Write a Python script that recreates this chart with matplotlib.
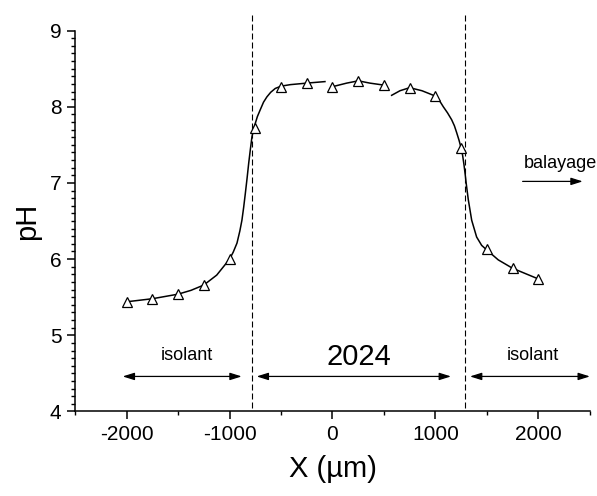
import matplotlib
matplotlib.use("Agg")
import matplotlib.pyplot as plt
from matplotlib.ticker import MultipleLocator

plt.rcParams['font.family'] = ['Liberation Sans', 'DejaVu Sans']
plt.rcParams['axes.unicode_minus'] = False

# measured points (triangles)
x_pts = [-2000, -1750, -1500, -1250, -1000, -750, -500, -250, 0,
         250, 500, 750, 1000, 1250, 1500, 1750, 2000]
ph_pts = [5.44, 5.48, 5.54, 5.66, 6.00, 7.72, 8.26, 8.31, 8.26,
          8.34, 8.28, 8.25, 8.14, 7.46, 6.13, 5.88, 5.74]

# fitted curves (three pieces)
fit1_x = [-2000, -1875, -1750, -1625, -1500, -1375, -1250, -1125, -1000,
          -965, -928, -900, -880, -863, -847, -830, -814, -798, -782,
          -755, -730, -702, -670, -637, -600, -556, -500, -410, -250, -73]
fit1_ph = [5.44, 5.46, 5.48, 5.51, 5.54, 5.59, 5.66, 5.79, 6.00,
           6.09, 6.21, 6.37, 6.51, 6.68, 6.86, 7.06, 7.26, 7.44, 7.61,
           7.76, 7.87, 7.96, 8.06, 8.13, 8.19, 8.24, 8.27, 8.29, 8.31, 8.33]
fit2_x = [20, 138, 251, 364, 520]
fit2_ph = [8.27, 8.31, 8.34, 8.31, 8.28]
fit3_x = [575, 656, 750, 870, 1000, 1040, 1077, 1118, 1158, 1185, 1207,
          1230, 1250, 1265, 1278, 1290, 1300, 1320, 1353, 1401, 1450, 1500,
          1611, 1750, 1875, 2000]
fit3_ph = [8.15, 8.21, 8.25, 8.21, 8.14, 8.08, 8.00, 7.92, 7.83, 7.75, 7.66,
           7.56, 7.46, 7.36, 7.24, 7.11, 6.99, 6.78, 6.51, 6.29, 6.18, 6.12,
           5.99, 5.88, 5.81, 5.74]

# interface positions
x_interfaces = [-785, 1285]

fig = plt.figure(figsize=(5.97, 4.96), dpi=100)
ax = fig.add_axes([0.126, 0.1704, 0.8618, 0.768])

for fx, fy in [(fit1_x, fit1_ph), (fit2_x, fit2_ph), (fit3_x, fit3_ph)]:
    ax.plot(fx, fy, color='black', lw=1.1, zorder=2)

ax.plot(x_pts, ph_pts, linestyle='none', marker='^', markersize=7,
        markerfacecolor='white', markeredgecolor='black', markeredgewidth=0.9,
        zorder=3)

for xv in x_interfaces:
    ax.plot([xv, xv], [4.04, 9.25], color='black', lw=0.8,
            linestyle=(0, (5.4, 2.7)), clip_on=False, zorder=1)

arr = dict(arrowstyle='<|-|>,head_length=0.7,head_width=0.22', color='black',
           lw=0.9, shrinkA=0, shrinkB=0)
ax.annotate('', xy=(-882, 4.46), xytext=(-2039, 4.46), arrowprops=arr)
ax.annotate('', xy=(1152, 4.46), xytext=(-737, 4.46), arrowprops=arr)
ax.annotate('', xy=(2502, 4.46), xytext=(1336, 4.46), arrowprops=arr,
            annotation_clip=False)
ax.annotate('', xy=(2432, 7.02), xytext=(1848, 7.02),
            arrowprops=dict(arrowstyle='-|>,head_length=0.7,head_width=0.22',
                            color='black', lw=0.9, shrinkA=0, shrinkB=0))

ax.text(-1417, 4.73, 'isolant', fontsize=13, ha='center', va='center')
ax.text(255, 4.71, '2024', fontsize=21, ha='center', va='center')
ax.text(1944, 4.73, 'isolant', fontsize=13, ha='center', va='center')
ax.text(2216, 7.26, 'balayage', fontsize=13, ha='center', va='center',
        clip_on=False)

ax.set_xlim(-2500, 2500)
ax.set_ylim(4, 9)
ax.xaxis.set_major_locator(MultipleLocator(1000))
ax.xaxis.set_minor_locator(MultipleLocator(500))
ax.yaxis.set_major_locator(MultipleLocator(1))
ax.yaxis.set_minor_locator(MultipleLocator(0.1))
ax.tick_params(which='major', direction='out', length=6, width=1.1,
               labelsize=15, pad=4)
ax.tick_params(which='minor', direction='out', length=3.2, width=1.0)

ax.spines['top'].set_visible(False)
ax.spines['right'].set_visible(False)
ax.spines['left'].set_linewidth(1.1)
ax.spines['bottom'].set_linewidth(1.1)

ax.set_xlabel('X (µm)', fontsize=21, labelpad=8)
ax.set_ylabel('pH', fontsize=21, labelpad=6)

fig.savefig('out.png', dpi=100)
